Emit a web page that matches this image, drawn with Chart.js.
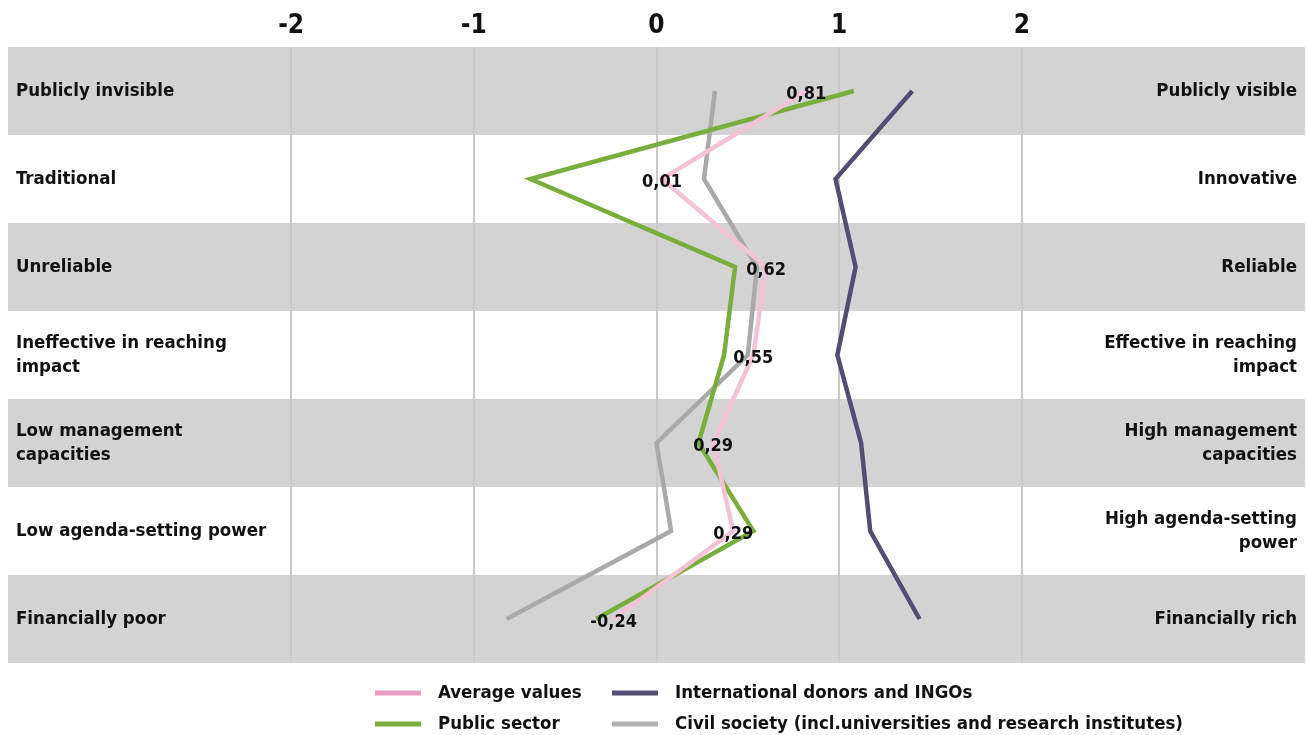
<!DOCTYPE html>
<html>
<head>
<meta charset="utf-8">
<script src="https://cdn.jsdelivr.net/npm/chart.js@4.4.1/dist/chart.umd.min.js"></script>
<style>
  html, body { margin: 0; padding: 0; background: #ffffff; }
  #wrap { position: relative; width: 1307px; height: 735px; }
</style>
</head>
<body>
<div id="wrap"><canvas id="c" width="1307" height="735"></canvas></div>
<script>
// ---- data ----
const leftLabels = [
  'Publicly invisible', 'Traditional', 'Unreliable',
  ['Ineffective in reaching', 'impact'], ['Low management', 'capacities'],
  'Low agenda-setting power', 'Financially poor'
];
const rightLabels = [
  'Publicly visible', 'Innovative', 'Reliable',
  ['Effective in reaching', 'impact'], ['High management', 'capacities'],
  ['High agenda-setting', 'power'], 'Financially rich'
];
const xTicks = [-2, -1, 0, 1, 2];
const averageValues = [0.82, 0.03, 0.60, 0.53, 0.31, 0.42, -0.235];
const averageText = ['0,81', '0,01', '0,62', '0,55', '0,29', '0,29', '-0,24'];
const publicSector = [1.08, -0.69, 0.43, 0.37, 0.23, 0.53, -0.33];
const intlDonors = [1.40, 0.98, 1.09, 0.99, 1.12, 1.17, 1.44];
const civilSociety = [0.32, 0.26, 0.55, 0.50, 0.00, 0.08, -0.82];

const FONT = '"DejaVu Sans Condensed", "DejaVu Sans", sans-serif';
const LABEL_SIZE = 18.5;

const bandPlugin = {
  id: 'bands',
  beforeDraw(chart) {
    const { ctx, chartArea } = chart;
    const y = chart.scales.y;
    const step = y.getPixelForValue(1) - y.getPixelForValue(0);
    ctx.save();
    ctx.fillStyle = '#d4d3d4';
    for (let i = 0; i < leftLabels.length; i += 2) {
      const c = y.getPixelForValue(i);
      ctx.fillRect(chartArea.left, c - step / 2, chartArea.right - chartArea.left, step);
    }
    ctx.restore();
  }
};

const valueLabelPlugin = {
  id: 'valueLabels',
  afterDatasetsDraw(chart) {
    const { ctx } = chart;
    const meta = chart.getDatasetMeta(0);
    ctx.save();
    ctx.font = 'bold 18px ' + FONT;
    ctx.fillStyle = '#111111';
    ctx.textAlign = 'center';
    ctx.textBaseline = 'middle';
    meta.data.forEach((pt, i) => {
      ctx.fillText(averageText[i], pt.x, pt.y + 3);
    });
    ctx.restore();
  }
};

const legendPlugin = {
  id: 'customLegend',
  afterDraw(chart) {
    const { ctx } = chart;
    const ds = chart.data.datasets;
    const slots = [
      { x: 375, y: 693 }, { x: 612, y: 693 },
      { x: 375, y: 724 }, { x: 612, y: 724 }
    ];
    ctx.save();
    ctx.font = 'bold ' + LABEL_SIZE + 'px ' + FONT;
    ctx.textBaseline = 'middle';
    ctx.textAlign = 'left';
    ds.forEach((d) => {
      const s = slots[d.legendIndex];
      ctx.fillStyle = d.legendColor;
      ctx.fillRect(s.x, s.y - 2.5, 46, 5);
      ctx.fillStyle = '#111111';
      ctx.fillText(d.label, s.x + 63, s.y);
    });
    ctx.restore();
  }
};

const labelFont = { family: FONT, size: LABEL_SIZE, weight: 'bold', lineHeight: 1.27 };

new Chart(document.getElementById('c'), {
  type: 'line',
  data: {
    labels: leftLabels,
    datasets: [
      { label: 'Average values', data: averageValues, borderColor: '#f3c2d7', legendColor: '#ec9cc0', legendIndex: 0 },
      { label: 'Public sector', data: publicSector, borderColor: '#7aae3c', legendColor: '#7aae3c', legendIndex: 2 },
      { label: 'International donors and INGOs', data: intlDonors, borderColor: '#524d72', legendColor: '#524d72', legendIndex: 1 },
      { label: 'Civil society (incl.universities and research institutes)', data: civilSociety, borderColor: '#a9a9a9', legendColor: '#b0b0b0', legendIndex: 3 }
    ].map(d => Object.assign({ borderWidth: 4.5, pointRadius: 0, tension: 0, fill: false }, d))
  },
  options: {
    responsive: false,
    animation: false,
    indexAxis: 'y',
    layout: { padding: { left: 8, right: 2, top: 0, bottom: 72 } },
    plugins: { legend: { display: false }, tooltip: { enabled: false } },
    scales: {
      x: {
        type: 'linear',
        position: 'top',
        min: -3.55,
        max: 3.55,
        afterBuildTicks(scale) { scale.ticks = xTicks.map(v => ({ value: v })); },
        afterFit(scale) { scale.height = 47; },
        grid: { color: '#c9c9c9', lineWidth: 2, drawTicks: false },
        border: { display: false },
        ticks: {
          padding: 5,
          color: '#111111',
          font: { family: FONT, size: 26, weight: 'bold' },
          callback: v => String(v)
        }
      },
      y: {
        type: 'category',
        position: 'left',
        offset: true,
        afterFit(scale) { scale.width = 0; },
        grid: { display: false },
        border: { display: false },
        ticks: { mirror: true, padding: 8, color: '#111111', font: labelFont }
      },
      y2: {
        type: 'category',
        position: 'right',
        labels: rightLabels,
        offset: true,
        afterFit(scale) { scale.width = 0; },
        grid: { display: false },
        border: { display: false },
        ticks: { mirror: true, padding: -8, color: '#111111', font: labelFont }
      }
    }
  },
  plugins: [bandPlugin, valueLabelPlugin, legendPlugin]
});
</script>
</body>
</html>
